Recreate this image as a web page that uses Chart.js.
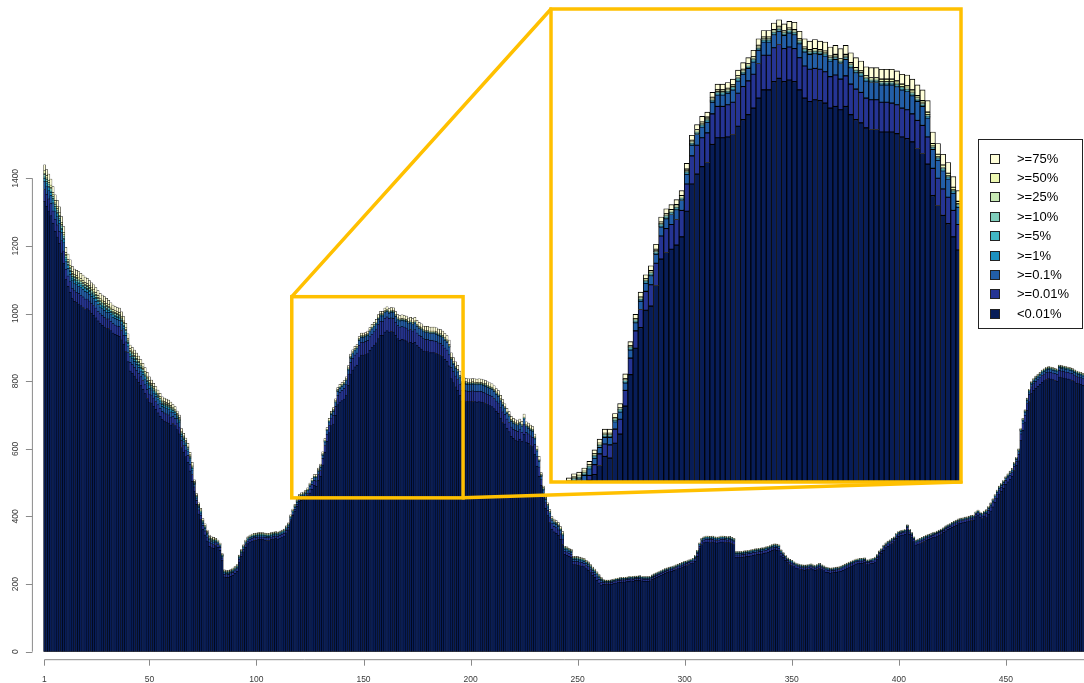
<!DOCTYPE html>
<html>
<head>
<meta charset="utf-8">
<script src="https://cdn.jsdelivr.net/npm/chart.js@4.4.1/dist/chart.umd.min.js"></script>
<style>
  html, body { margin: 0; padding: 0; background: #ffffff; }
  #wrap { position: relative; width: 1084px; height: 683px; overflow: hidden; }
  #main { position: absolute; left: 0; top: 0; }
  #inset { position: absolute; }
</style>
</head>
<body>
<div id="wrap">
  <canvas id="main" width="1084" height="683"></canvas>
  <canvas id="inset"></canvas>
</div>
<script>
const barCount = 486;
const barIds = Array.from({ length: barCount }, (_, i) => String(i + 1));
const xTickLabels = [1, 50, 100, 150, 200, 250, 300, 350, 400, 450];
const yTickLabels = [0, 200, 400, 600, 800, 1000, 1200, 1400];

// stacking order, bottom to top
const layerNames = ['<0.01%', '>=0.01%', '>=0.1%', '>=1%', '>=5%', '>=10%', '>=25%', '>=50%', '>=75%'];
const layerColors = ['#081d58', '#253494', '#225ea8', '#1d91c0', '#41b6c4', '#7fcdbb', '#c7e9b4', '#edf8b1', '#ffffd9'];

const below001 = [
  1331,1317,1303,1289,1267,1243,1226,1207,1179,1149,
  1100,1080,1063,1044,1036,1032,1028,1023,1018,1012,
  1014,1008,1001,995,987,978,970,965,960,955,
  956,949,942,938,935,933,922,908,888,857,
  830,823,815,806,797,787,776,763,749,736,
  735,726,716,706,696,686,682,679,676,670,
  675,669,656,644,604,590,576,560,534,504,
  475,435,407,391,361,345,327,312,307,305,
  314,309,300,269,221,219,220,222,226,231,
  237,265,281,295,309,319,324,327,329,330,
  331,331,331,330,329,329,331,333,334,333,
  336,339,342,351,360,387,403,416,430,444,
  448,450,454,462,469,480,491,489,507,518,
  552,590,622,647,668,673,698,730,738,742,
  747,757,788,821,833,842,847,869,877,877,
  878,881,891,899,905,913,925,935,935,945,
  949,945,947,945,935,925,921,923,922,919,
  913,915,911,915,905,899,895,889,887,887,
  884,884,884,882,878,876,872,864,858,845,
  807,795,783,773,757,741,742,740,739,739,
  740,739,738,739,738,736,734,730,727,724,
  718,710,704,690,678,673,660,650,636,630,
  626,623,628,621,643,620,616,610,606,584,
  548,518,492,452,424,402,382,362,354,350,
  344,332,317,287,285,281,278,257,257,256,
  255,253,251,245,241,233,225,219,211,203,
  195,199,198,198,198,199,201,203,204,205,
  206,206,207,208,209,208,210,210,211,209,
  208,208,208,209,213,217,220,223,226,229,
  232,234,236,238,240,243,245,247,250,253,
  255,258,260,262,267,282,304,317,322,324,
  324,323,324,322,321,322,324,324,323,322,
  323,320,317,278,278,278,279,280,281,282,
  283,285,286,287,288,289,290,292,294,296,
  299,301,300,298,283,278,270,263,258,255,
  251,247,245,243,242,241,242,243,245,242,
  240,243,246,242,239,235,234,232,233,234,
  235,236,238,241,244,247,250,253,256,259,
  260,261,261,263,257,257,260,261,265,272,
  283,290,300,307,312,316,320,325,335,341,
  343,345,347,360,347,337,325,315,318,320,
  323,326,330,332,334,337,339,342,345,348,
  352,357,361,364,368,371,374,378,380,381,
  383,384,386,388,389,399,404,398,394,401,
  396,406,416,428,441,454,466,474,483,494,
  502,510,518,536,551,564,624,654,679,714,
  740,763,772,779,784,790,797,801,805,807,
  806,804,802,800,812,810,809,807,806,804,
  802,798,794,792,790,787
];

const atLeast001 = [
  36,36,36,36,36,36,36,36,36,36,
  31,31,31,31,31,31,31,31,31,31,
  29,29,29,29,29,29,29,29,29,29,
  28,28,28,28,28,28,28,28,28,28,
  26,26,26,26,26,26,26,26,26,26,
  24,24,24,24,24,24,24,24,24,24,
  20,20,20,20,20,20,20,20,20,20,
  12,12,12,12,12,12,12,12,12,12,
  8,8,8,8,8,8,8,8,8,8,
  8,8,8,8,8,8,8,8,8,8,
  8,8,8,8,8,8,8,8,8,8,
  8,8,8,8,8,3,4,4,5,5,
  6,6,6,6,12,14,15,16,17,18,
  19,20,21,22,23,26,27,28,29,30,
  31,32,33,34,35,35,36,37,38,38,
  39,39,40,40,41,41,42,42,42,41,
  41,40,40,40,39,39,39,38,38,38,
  38,38,37,37,37,37,37,36,36,36,
  36,36,35,35,35,35,34,34,34,33,
  33,33,32,32,32,31,31,31,31,31,
  31,31,31,31,31,31,31,31,31,31,
  31,31,31,31,31,28,28,28,28,28,
  28,28,28,28,28,28,28,28,28,28,
  28,28,16,16,16,16,16,16,16,16,
  16,16,16,10,10,10,10,10,10,10,
  10,10,10,10,10,10,10,10,10,10,
  10,6,6,6,6,6,6,6,6,6,
  6,6,6,6,6,6,6,6,6,6,
  6,6,6,6,6,6,6,6,6,6,
  6,6,6,6,6,6,6,6,6,6,
  6,6,6,6,8,8,8,8,8,8,
  8,8,8,8,8,8,8,8,8,8,
  8,8,8,8,8,8,8,8,8,8,
  8,8,8,8,8,8,8,8,8,8,
  8,8,8,8,8,7,7,7,7,7,
  7,7,7,7,7,7,7,7,7,7,
  7,7,7,7,7,7,7,7,7,7,
  7,7,7,7,7,7,7,7,7,7,
  7,7,7,7,7,7,7,7,7,7,
  7,7,7,7,7,7,7,7,7,7,
  7,7,7,7,7,7,7,7,7,7,
  7,7,7,7,7,7,7,7,7,7,
  7,7,7,7,7,7,7,7,7,7,
  7,7,7,7,7,7,7,7,7,7,
  12,12,12,12,12,12,12,12,12,12,
  12,12,12,12,12,20,20,20,20,20,
  20,20,20,20,20,20,20,20,20,20,
  20,20,20,20,20,20,20,20,20,20,
  20,20,20,20,20,20
];

const atLeast01 = [
  24,24,24,24,24,24,24,24,24,24,
  22,22,22,22,22,22,22,22,22,22,
  20,20,20,20,20,20,20,20,20,20,
  19,19,19,19,19,19,19,19,19,19,
  17,17,17,17,17,17,17,17,17,17,
  15,15,15,15,15,15,15,15,15,15,
  13,13,13,13,13,13,13,13,13,13,
  7,7,7,7,7,7,7,7,7,7,
  4,4,4,4,4,4,4,4,4,4,
  4,4,4,4,4,4,4,4,4,4,
  4,4,4,4,4,4,4,4,4,4,
  4,4,4,4,4,6,6,7,7,7,
  7,7,8,8,8,8,8,9,9,9,
  9,10,10,10,10,11,11,11,12,12,
  12,12,12,13,13,13,13,14,14,14,
  14,15,15,15,15,15,16,16,16,16,
  16,16,17,17,17,17,18,18,18,19,
  19,19,19,20,20,20,20,21,21,21,
  21,21,22,22,22,22,22,23,23,23,
  23,22,22,22,21,21,20,20,20,20,
  20,20,20,20,20,20,20,20,20,20,
  20,20,20,20,20,17,17,17,17,17,
  17,17,17,17,17,17,17,17,17,17,
  17,17,10,10,10,10,10,10,10,10,
  10,10,10,6,6,6,6,6,6,6,
  6,6,6,6,6,6,6,6,6,6,
  6,3,3,3,3,3,3,3,3,3,
  3,3,3,3,3,3,3,3,3,3,
  3,3,3,3,3,3,3,3,3,3,
  3,3,3,3,3,3,3,3,3,3,
  3,3,3,3,4,4,4,4,4,4,
  4,4,4,4,4,4,4,4,4,4,
  4,4,4,4,4,4,4,4,4,4,
  4,4,4,4,4,4,4,4,4,4,
  4,4,4,4,4,3,3,3,3,3,
  3,3,3,3,3,3,3,3,3,3,
  3,3,3,3,3,3,3,3,3,3,
  3,3,3,3,3,3,3,3,3,3,
  3,3,3,3,3,3,3,3,3,3,
  3,3,3,3,3,3,3,3,3,3,
  3,3,3,3,3,3,3,3,3,3,
  3,3,3,3,3,3,3,3,3,3,
  3,3,3,3,3,3,3,3,3,3,
  3,3,3,3,3,3,3,3,3,3,
  5,5,5,5,5,5,5,5,5,5,
  5,5,5,5,5,8,8,8,8,8,
  8,8,8,8,8,8,8,8,8,8,
  8,8,8,8,8,8,8,8,8,8,
  8,8,8,8,8,8
];

const atLeast1 = [
  9,9,9,9,9,9,9,9,9,9,
  8,8,8,8,8,8,8,8,8,8,
  8,8,8,8,8,8,8,8,8,8,
  7,7,7,7,7,7,7,7,7,7,
  7,7,7,7,7,7,7,7,7,7,
  6,6,6,6,6,6,6,6,6,6,
  5,5,5,5,5,5,5,5,5,5,
  3,3,3,3,3,3,3,3,3,3,
  2,2,2,2,2,2,2,2,2,2,
  2,2,2,2,2,2,2,2,2,2,
  2,2,2,2,2,2,2,2,2,2,
  2,2,2,2,2,1,1,1,1,1,
  1,1,1,1,1,1,1,1,1,1,
  1,1,1,1,1,1,1,1,1,1,
  1,1,1,1,1,1,1,1,1,1,
  1,1,1,1,1,1,1,1,1,1,
  1,1,1,1,1,1,1,1,1,1,
  1,1,1,1,1,1,1,1,1,1,
  1,1,1,1,1,1,1,1,1,1,
  1,1,1,1,1,1,1,1,1,1,
  1,1,1,1,1,1,1,1,1,1,
  1,1,1,1,1,1,1,1,1,1,
  1,1,1,1,1,1,1,1,1,1,
  1,1,2,2,2,2,2,2,2,2,
  2,2,2,2,2,2,2,2,2,2,
  2,2,2,2,2,2,2,2,2,2,
  2,1,1,1,1,1,1,1,1,1,
  1,1,1,1,1,1,1,1,1,1,
  1,1,1,1,1,1,1,1,1,1,
  1,1,1,1,1,1,1,1,1,1,
  1,1,1,1,1,1,1,1,1,1,
  1,1,1,1,1,1,1,1,1,1,
  1,1,1,1,1,1,1,1,1,1,
  1,1,1,1,1,1,1,1,1,1,
  1,1,1,1,1,1,1,1,1,1,
  1,1,1,1,1,1,1,1,1,1,
  1,1,1,1,1,1,1,1,1,1,
  1,1,1,1,1,1,1,1,1,1,
  1,1,1,1,1,1,1,1,1,1,
  1,1,1,1,1,1,1,1,1,1,
  1,1,1,1,1,1,1,1,1,1,
  1,1,1,1,1,1,1,1,1,1,
  1,1,1,1,1,1,1,1,1,1,
  1,1,1,1,1,1,1,1,1,1,
  1,1,1,1,1,1,1,1,1,1,
  1,1,1,1,1,2,2,2,2,2,
  2,2,2,2,2,2,2,2,2,2,
  2,2,2,2,2,2,2,2,2,2,
  2,2,2,2,2,2
];

const atLeast5 = [
  4,4,4,4,4,4,4,4,4,4,
  4,4,4,4,4,4,4,4,4,4,
  3,3,3,3,3,3,3,3,3,3,
  3,3,3,3,3,3,3,3,3,3,
  3,3,3,3,3,3,3,3,3,3,
  3,3,3,3,3,3,3,3,3,3,
  2,2,2,2,2,2,2,2,2,2,
  1,1,1,1,1,1,1,1,1,1,
  1,1,1,1,1,1,1,1,1,1,
  1,1,1,1,1,1,1,1,1,1,
  1,1,1,1,1,1,1,1,1,1,
  1,1,1,1,1,1,1,1,1,1,
  1,1,1,1,1,1,1,1,1,1,
  1,1,1,1,1,1,1,1,1,1,
  1,1,1,1,1,1,1,1,1,1,
  1,1,1,1,1,1,1,1,1,1,
  1,1,1,1,1,1,1,1,1,1,
  1,1,1,1,1,1,1,1,1,1,
  1,1,1,1,1,1,1,1,1,1,
  1,1,1,1,1,1,1,1,1,1,
  1,1,1,1,1,1,1,1,1,1,
  1,1,1,1,1,1,1,1,1,1,
  1,1,1,1,1,1,1,1,1,1,
  1,1,1,1,1,1,1,1,1,1,
  1,1,1,1,1,1,1,1,1,1,
  1,1,1,1,1,1,1,1,1,1,
  1,1,1,1,1,1,1,1,1,1,
  1,1,1,1,1,1,1,1,1,1,
  1,1,1,1,1,1,1,1,1,1,
  1,1,1,1,1,1,1,1,1,1,
  1,1,1,1,1,1,1,1,1,1,
  1,1,1,1,1,1,1,1,1,1,
  1,1,1,1,1,1,1,1,1,1,
  1,1,1,1,1,1,1,1,1,1,
  1,1,1,1,1,1,1,1,1,1,
  1,1,1,1,1,1,1,1,1,1,
  1,1,1,1,1,1,1,1,1,1,
  1,1,1,1,1,1,1,1,1,1,
  1,1,1,1,1,1,1,1,1,1,
  1,1,1,1,1,1,1,1,1,1,
  1,1,1,1,1,1,1,1,1,1,
  1,1,1,1,1,1,1,1,1,1,
  1,1,1,1,1,1,1,1,1,1,
  1,1,1,1,1,1,1,1,1,1,
  1,1,1,1,1,1,1,1,1,1,
  1,1,1,1,1,1,1,1,1,1,
  1,1,1,1,1,1,1,1,1,1,
  1,1,1,1,1,1,1,1,1,1,
  1,1,1,1,1,1
];

const atLeast10 = [
  7,7,7,7,7,7,7,7,7,7,
  6,6,6,6,6,6,6,6,6,6,
  6,6,6,6,6,6,6,6,6,6,
  5,5,5,5,5,5,5,5,5,5,
  5,5,5,5,5,5,5,5,5,5,
  4,4,4,4,4,4,4,4,4,4,
  3,3,3,3,3,3,3,3,3,3,
  2,2,2,2,2,2,2,2,2,2,
  1,1,1,1,1,1,1,1,1,1,
  1,1,1,1,1,1,1,1,1,1,
  1,1,1,1,1,1,1,1,1,1,
  1,1,1,1,1,1,1,1,1,1,
  1,1,1,1,1,1,1,1,1,1,
  1,1,1,1,1,1,1,1,1,1,
  1,1,1,1,1,1,1,1,1,1,
  1,1,1,1,1,1,1,1,1,1,
  1,1,1,1,1,1,1,1,1,1,
  1,1,1,1,1,1,1,1,1,1,
  1,1,1,1,1,1,1,1,1,1,
  1,1,1,1,1,1,1,1,1,1,
  1,1,1,1,1,1,1,1,1,1,
  1,1,1,1,1,1,1,1,1,1,
  1,1,1,1,1,1,1,1,1,1,
  1,1,1,1,1,1,1,1,1,1,
  1,1,1,1,1,1,1,1,1,1,
  1,1,1,1,1,1,1,1,1,1,
  1,0,0,0,0,0,0,0,0,0,
  0,0,0,0,0,0,0,0,0,0,
  0,0,0,0,0,0,0,0,0,0,
  0,0,0,0,0,0,0,0,0,0,
  0,0,0,0,1,1,1,1,1,1,
  1,1,1,1,1,1,1,1,1,1,
  1,1,1,1,1,1,1,1,1,1,
  1,1,1,1,1,1,1,1,1,1,
  1,1,1,1,1,0,0,0,0,0,
  0,0,0,0,0,0,0,0,0,0,
  0,0,0,0,0,0,0,0,0,0,
  0,0,0,0,0,0,0,0,0,0,
  0,0,0,0,0,0,0,0,0,0,
  0,0,0,0,0,0,0,0,0,0,
  0,0,0,0,0,0,0,0,0,0,
  0,0,0,0,0,0,0,0,0,0,
  0,0,0,0,0,0,0,0,0,0,
  0,0,0,0,0,0,0,0,0,0,
  1,1,1,1,1,1,1,1,1,1,
  1,1,1,1,1,1,1,1,1,1,
  1,1,1,1,1,1,1,1,1,1,
  1,1,1,1,1,1,1,1,1,1,
  1,1,1,1,1,1
];

const atLeast25 = [
  4,4,4,4,4,4,4,4,4,4,
  3,3,3,3,3,3,3,3,3,3,
  3,3,3,3,3,3,3,3,3,3,
  3,3,3,3,3,3,3,3,3,3,
  3,3,3,3,3,3,3,3,3,3,
  2,2,2,2,2,2,2,2,2,2,
  2,2,2,2,2,2,2,2,2,2,
  1,1,1,1,1,1,1,1,1,1,
  1,1,1,1,1,1,1,1,1,1,
  1,1,1,1,1,1,1,1,1,1,
  1,1,1,1,1,1,1,1,1,1,
  1,1,1,1,1,1,1,1,1,1,
  1,1,1,1,1,1,1,1,1,1,
  1,1,1,1,1,1,1,1,1,1,
  1,1,1,1,1,1,1,1,1,1,
  1,1,1,1,1,1,1,1,1,1,
  1,1,1,1,1,1,1,1,1,1,
  1,1,1,1,1,1,1,1,1,1,
  1,1,1,1,1,1,1,1,1,1,
  1,1,1,1,1,1,1,1,1,1,
  1,1,1,1,1,1,1,1,1,1,
  1,1,1,1,1,1,1,1,1,1,
  1,1,1,1,1,1,1,1,1,1,
  1,1,1,1,1,1,1,1,1,1,
  1,1,1,1,1,1,1,1,1,1,
  1,1,1,1,1,1,1,1,1,1,
  1,0,0,0,0,0,0,0,0,0,
  0,0,0,0,0,0,0,0,0,0,
  0,0,0,0,0,0,0,0,0,0,
  0,0,0,0,0,0,0,0,0,0,
  0,0,0,0,0,0,0,0,0,0,
  0,0,0,0,0,0,0,0,0,0,
  0,0,0,0,0,0,0,0,0,0,
  0,0,0,0,0,0,0,0,0,0,
  0,0,0,0,0,0,0,0,0,0,
  0,0,0,0,0,0,0,0,0,0,
  0,0,0,0,0,0,0,0,0,0,
  0,0,0,0,0,0,0,0,0,0,
  0,0,0,0,0,0,0,0,0,0,
  0,0,0,0,0,0,0,0,0,0,
  0,0,0,0,0,0,0,0,0,0,
  0,0,0,0,0,0,0,0,0,0,
  0,0,0,0,0,0,0,0,0,0,
  0,0,0,0,0,0,0,0,0,0,
  1,1,1,1,1,1,1,1,1,1,
  1,1,1,1,1,1,1,1,1,1,
  1,1,1,1,1,1,1,1,1,1,
  1,1,1,1,1,1,1,1,1,1,
  1,1,1,1,1,1
];

const atLeast50 = [
  7,7,7,7,7,7,7,7,7,7,
  6,6,6,6,6,6,6,6,6,6,
  6,6,6,6,6,6,6,6,6,6,
  5,5,5,5,5,5,5,5,5,5,
  5,5,5,5,5,5,5,5,5,5,
  4,4,4,4,4,4,4,4,4,4,
  3,3,3,3,3,3,3,3,3,3,
  2,2,2,2,2,2,2,2,2,2,
  1,1,1,1,1,1,1,1,1,1,
  1,1,1,1,1,1,1,1,1,1,
  1,1,1,1,1,1,1,1,1,1,
  1,1,1,1,1,1,1,1,1,1,
  1,1,1,1,1,1,1,1,1,1,
  1,1,1,1,1,2,2,2,2,2,
  2,2,2,2,2,2,2,2,2,2,
  2,2,2,2,2,2,2,2,2,2,
  2,2,2,2,2,2,2,2,2,2,
  2,2,2,2,2,2,2,2,2,2,
  3,3,3,3,3,3,3,3,3,3,
  3,3,3,3,3,3,3,3,3,3,
  3,3,3,3,3,3,3,3,3,3,
  3,3,3,3,3,2,2,2,2,2,
  2,2,2,2,2,2,2,2,2,2,
  2,2,2,2,2,2,2,2,2,2,
  2,2,2,1,1,1,1,1,1,1,
  1,1,1,1,1,1,1,1,1,1,
  1,1,1,1,1,1,1,1,1,1,
  1,1,1,1,1,1,1,1,1,1,
  1,1,1,1,1,1,1,1,1,1,
  1,1,1,1,1,1,1,1,1,1,
  1,1,1,1,1,1,1,1,1,1,
  1,1,1,1,1,1,1,1,1,1,
  1,1,1,1,1,1,1,1,1,1,
  1,1,1,1,1,1,1,1,1,1,
  1,1,1,1,1,1,1,1,1,1,
  1,1,1,1,1,1,1,1,1,1,
  1,1,1,1,1,1,1,1,1,1,
  1,1,1,1,1,1,1,1,1,1,
  1,1,1,1,1,1,1,1,1,1,
  1,1,1,1,1,1,1,1,1,1,
  1,1,1,1,1,1,1,1,1,1,
  1,1,1,1,1,1,1,1,1,1,
  1,1,1,1,1,1,1,1,1,1,
  1,1,1,1,1,1,1,1,1,1,
  1,1,1,1,1,1,1,1,1,1,
  1,1,1,1,1,1,1,1,1,1,
  1,1,1,1,1,1,1,1,1,1,
  1,1,1,1,1,1,1,1,1,1,
  1,1,1,1,1,1
];

const atLeast75 = [
  18,18,19,18,18,17,18,18,17,17,
  16,16,16,16,16,16,16,16,16,16,
  15,15,15,15,15,15,15,15,15,15,
  13,13,13,13,13,13,13,13,13,13,
  11,11,11,11,11,11,11,11,11,11,
  10,10,10,10,10,10,10,10,10,10,
  8,8,8,8,8,8,8,8,8,8,
  5,5,5,5,5,5,5,5,5,5,
  3,3,3,3,3,3,3,3,3,3,
  3,3,3,3,3,3,3,3,3,3,
  3,3,3,3,3,3,3,3,3,3,
  3,3,3,3,3,4,4,4,4,4,
  4,4,4,4,5,5,5,5,5,5,
  6,5,5,6,5,6,6,6,6,6,
  6,6,7,6,6,7,6,6,7,7,
  7,7,7,8,7,8,8,8,8,8,
  8,8,8,9,9,10,10,11,10,11,
  11,11,12,11,12,12,12,11,12,12,
  12,12,12,12,12,13,13,13,13,14,
  14,13,13,13,13,13,10,10,10,10,
  10,10,10,10,10,10,10,10,10,10,
  10,10,10,10,10,9,9,9,9,9,
  9,9,9,9,9,9,9,9,9,9,
  9,9,5,5,5,5,5,5,5,5,
  5,5,5,3,3,3,3,3,3,3,
  3,3,3,3,3,3,3,3,3,3,
  3,2,2,2,2,2,2,2,2,2,
  2,2,2,2,2,2,2,2,2,2,
  2,2,2,2,2,2,2,2,2,2,
  2,2,2,2,2,2,2,2,2,2,
  2,2,2,2,2,2,2,2,2,2,
  2,2,2,2,2,2,2,2,2,2,
  2,2,2,2,2,2,2,2,2,2,
  2,2,2,2,2,2,2,2,2,2,
  2,2,2,2,2,2,2,2,2,2,
  2,2,2,2,2,2,2,2,2,2,
  2,2,2,2,2,2,2,2,2,2,
  2,2,2,2,2,2,2,2,2,2,
  2,2,2,2,2,2,2,2,2,2,
  2,2,2,2,2,2,2,2,2,2,
  2,2,2,2,2,2,2,2,2,2,
  2,2,2,2,2,2,2,2,2,2,
  2,2,2,2,2,2,2,2,2,2,
  2,2,2,2,2,2,2,2,2,2,
  2,2,2,2,2,2,2,2,2,2,
  2,2,2,2,2,2,2,2,2,2,
  2,2,2,2,2,2,2,2,2,2,
  2,2,2,2,2,2,2,2,2,2,
  2,2,2,2,2,2
];

// bars shown magnified, the value window outlined on the main plot, and the inset's own range
const zoomFirstBar = 117;
const zoomLastBar = 196;
const zoomBoxLow = 455;
const zoomBoxHigh = 1050;
const insetLow = 460;
const insetHigh = 1033;

const layers = [below001, atLeast001, atLeast01, atLeast1, atLeast5, atLeast10, atLeast25, atLeast50, atLeast75];
layers.forEach((arr, i) => {
  if (arr.length !== barCount) throw new Error(layerNames[i] + ' has ' + arr.length + ' values');
});

const insetFrame = { left: 551, top: 9, width: 410, height: 473 };
const frameColor = '#ffc000';
const tickFont = '8.5px "Liberation Sans", Arial, sans-serif';
const legendFont = '13px "Liberation Sans", Arial, sans-serif';

function makeDatasets(from, to, border) {
  return layers.map((vals, i) => ({
    label: layerNames[i],
    data: vals.slice(from, to),
    backgroundColor: layerColors[i],
    borderColor: '#000000',
    borderWidth: border,
    borderSkipped: false,
    categoryPercentage: 1,
    barPercentage: 1,
    stack: 'all'
  }));
}

// R-style axes, zoom outline with connectors, and the legend box
const mainDecor = {
  id: 'mainDecor',
  afterDraw(chart) {
    const { ctx, chartArea } = chart;
    const xs = chart.scales.x, ys = chart.scales.y;
    const slot = xs.getPixelForValue(1) - xs.getPixelForValue(0);
    ctx.save();

    // y axis
    const axX = chartArea.left - 11;
    ctx.strokeStyle = '#8a8a8a';
    ctx.lineWidth = 1;
    ctx.beginPath();
    ctx.moveTo(axX, ys.getPixelForValue(yTickLabels[0]));
    ctx.lineTo(axX, ys.getPixelForValue(yTickLabels[yTickLabels.length - 1]));
    yTickLabels.forEach(v => {
      const py = Math.round(ys.getPixelForValue(v)) + 0.5;
      ctx.moveTo(axX, py);
      ctx.lineTo(axX - 6.5, py);
    });
    ctx.stroke();
    ctx.fillStyle = '#3a3a3a';
    ctx.font = tickFont;
    ctx.textAlign = 'center';
    ctx.textBaseline = 'middle';
    yTickLabels.forEach(v => {
      const py = ys.getPixelForValue(v);
      ctx.save();
      ctx.translate(axX - 16.5, py);
      ctx.rotate(-Math.PI / 2);
      ctx.fillText(String(v), 0, 0);
      ctx.restore();
    });

    // x axis
    const axY = chartArea.bottom + 8;
    ctx.beginPath();
    ctx.moveTo(xs.getPixelForValue(xTickLabels[0] - 1), axY);
    ctx.lineTo(chart.width, axY);
    xTickLabels.forEach(v => {
      const px = Math.round(xs.getPixelForValue(v - 1)) + 0.5;
      ctx.moveTo(px, axY);
      ctx.lineTo(px, axY + 6);
    });
    ctx.stroke();
    xTickLabels.forEach(v => {
      ctx.fillText(String(v), xs.getPixelForValue(v - 1), axY + 20);
    });

    // outline of the magnified window and lines to the inset
    const bx0 = xs.getPixelForValue(zoomFirstBar - 1) - slot / 2;
    const bx1 = xs.getPixelForValue(zoomLastBar - 1) + slot / 2;
    const by0 = ys.getPixelForValue(zoomBoxHigh);
    const by1 = ys.getPixelForValue(zoomBoxLow);
    ctx.strokeStyle = frameColor;
    ctx.lineWidth = 3.5;
    ctx.lineJoin = 'miter';
    ctx.strokeRect(bx0, by0, bx1 - bx0, by1 - by0);
    ctx.lineCap = 'round';
    ctx.beginPath();
    ctx.moveTo(bx0, by0);
    ctx.lineTo(insetFrame.left, insetFrame.top);
    ctx.moveTo(bx1, by1);
    ctx.lineTo(insetFrame.left + insetFrame.width, insetFrame.top + insetFrame.height);
    ctx.stroke();

    // legend
    const lg = { left: 978.5, top: 139.5, right: 1082.5, bottom: 328.5 };
    ctx.lineCap = 'butt';
    ctx.strokeStyle = '#222222';
    ctx.lineWidth = 1;
    ctx.strokeRect(lg.left, lg.top, lg.right - lg.left, lg.bottom - lg.top);
    ctx.font = legendFont;
    ctx.textAlign = 'left';
    ctx.textBaseline = 'middle';
    const rowGap = 19.4;
    for (let r = 0; r < layerNames.length; r++) {
      const k = layerNames.length - 1 - r;
      const cy = 158.5 + r * rowGap;
      ctx.fillStyle = layerColors[k];
      ctx.fillRect(990.5, Math.round(cy) - 4.5, 9, 9);
      ctx.strokeRect(990.5, Math.round(cy) - 4.5, 9, 9);
      ctx.fillStyle = '#000000';
      ctx.fillText(layerNames[k], 1017, cy + 0.5);
    }
    ctx.restore();
  }
};

new Chart(document.getElementById('main'), {
  type: 'bar',
  data: { labels: barIds, datasets: makeDatasets(0, barCount, 0.5) },
  options: {
    responsive: false,
    animation: false,
    devicePixelRatio: 1,
    layout: { padding: { left: 43.4, right: 0, top: 9.3, bottom: 31.3 } },
    plugins: { legend: { display: false }, tooltip: { enabled: false } },
    scales: {
      x: { stacked: true, display: false },
      y: { stacked: true, display: false, min: 0, max: 1900 }
    }
  },
  plugins: [mainDecor]
});

// magnified inset with its gold frame
const insetCanvas = document.getElementById('inset');
insetCanvas.width = insetFrame.width + 4;
insetCanvas.height = insetFrame.height + 4;
insetCanvas.style.left = (insetFrame.left - 2) + 'px';
insetCanvas.style.top = (insetFrame.top - 2) + 'px';

const insetFrameDraw = {
  id: 'insetFrameDraw',
  afterDraw(chart) {
    const { ctx, chartArea: a } = chart;
    ctx.save();
    ctx.strokeStyle = frameColor;
    ctx.lineWidth = 3.5;
    ctx.strokeRect(a.left, a.top, a.right - a.left, a.bottom - a.top);
    ctx.restore();
  }
};

new Chart(insetCanvas, {
  type: 'bar',
  data: {
    labels: barIds.slice(zoomFirstBar - 1, zoomLastBar),
    datasets: makeDatasets(zoomFirstBar - 1, zoomLastBar, 0.9)
  },
  options: {
    responsive: false,
    animation: false,
    devicePixelRatio: 1,
    layout: { padding: 2 },
    plugins: { legend: { display: false }, tooltip: { enabled: false } },
    scales: {
      x: { stacked: true, display: false },
      y: { stacked: true, display: false, min: insetLow, max: insetHigh }
    }
  },
  plugins: [insetFrameDraw]
});
</script>
</body>
</html>
